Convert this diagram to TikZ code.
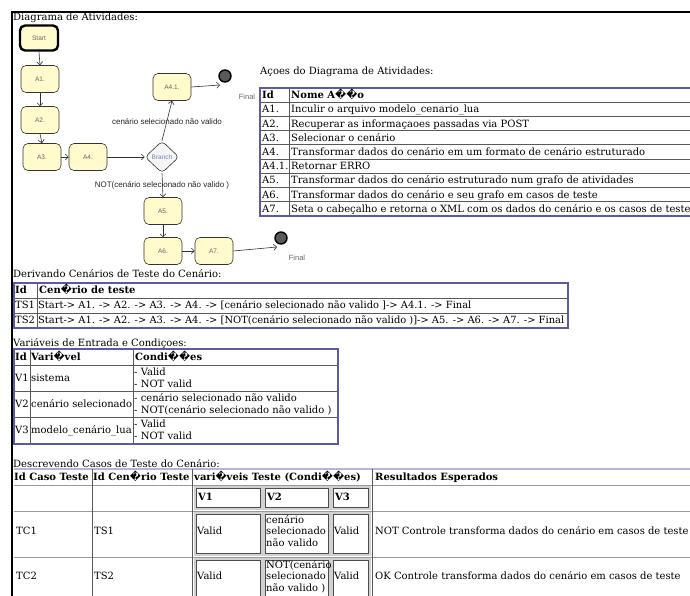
\documentclass[tikz,border=0pt]{standalone}
\usepackage{fontspec}
\setmainfont{DejaVu Serif}
\newfontfamily\diagfont{Liberation Sans}
\usetikzlibrary{shapes.geometric,arrows.meta,positioning,calc}

\definecolor{actyellow}{HTML}{FFFBCC}
\definecolor{tblframe}{HTML}{5A5AA8}
\definecolor{tbltop}{HTML}{B4B4DC}
\definecolor{branchblue}{HTML}{7083B0}
\definecolor{linegray}{HTML}{333333}

\begin{document}
\begin{tikzpicture}[
    x=1pt, y=-1pt,
    font=\fontsize{10}{12}\selectfont,
    >={Straight Barb[length=3pt,width=6pt]},
    act/.style={rectangle, draw=linegray, fill=actyellow, rounded corners=5pt, minimum width=38pt, minimum height=27pt, inner sep=0pt, line width=0.6pt, font=\diagfont\fontsize{6.5}{7}\selectfont, text=black!60},
    startact/.style={act, draw=black, line width=2.4pt, minimum width=38pt, minimum height=25pt},
    branch/.style={diamond, draw=linegray, fill=black!4, rounded corners=4pt, minimum width=34pt, minimum height=32pt, inner sep=0pt, line width=0.6pt, font=\diagfont\fontsize{6.5}{7}\selectfont, text=branchblue},
    final/.style={circle, draw=black, fill=black!65, line width=1.4pt, minimum size=12pt, inner sep=0pt},
    flow/.style={->, draw=linegray, line width=0.6pt},
    guard/.style={font=\diagfont\fontsize{8}{9}\selectfont, text=black!85, inner sep=0pt},
    finlabel/.style={font=\diagfont\fontsize{7.5}{8}\selectfont, text=black!60, inner sep=0pt},
    caption/.style={anchor=base west, inner sep=0pt},
    cell/.style={anchor=base west, inner sep=0pt},
    longcell/.style={cell, font=\fontsize{9.9}{12}\selectfont},
    head/.style={cell, font=\fontsize{10}{12}\selectfont\bfseries},
    frame/.style={draw=tblframe, line width=1.5pt},
    grid/.style={draw=black!65, line width=0.6pt},
    subouter/.style={draw=black!18, line width=1.6pt},
    subinner/.style={draw=black!70, line width=0.6pt}
]
\useasboundingbox (0,0) rectangle (690,596);
\clip (0,0) rectangle (690,596);
\fill[white] (0,0) rectangle (690,596);

% Page frame
\draw[line width=2.6pt] (12,11) -- (12,600);
\draw[line width=1.4pt] (11,12) -- (700,12);

% Activity diagram
\node[caption] (diagtitle) at (13,21) {Diagrama de Atividades:};
\node[startact] (start) at (39,38) {Start};
\node[act] (a1) at (40,79) {A1.};
\node[act] (a2) at (40,120) {A2.};
\node[act] (a3) at (42,157) {A3.};
\node[act] (a4) at (88,157) {A4.};
\node[branch] (branch) at (162,157) {Branch};
\node[act] (a41) at (172,87) {A4.1.};
\node[final] (fin1) at (225,76) {};
\node[finlabel] (fin1lbl) at (247,97) {Final};
\node[act] (a5) at (163,211) {A5.};
\node[act] (a6) at (163,251) {A6.};
\node[act] (a7) at (214,251) {A7.};
\node[final] (fin2) at (281,238) {};
\node[finlabel] (fin2lbl) at (297,258) {Final};
\node[guard] (gyes) at (167,122) {cenário selecionado não valido};
\node[guard] (gno) at (162,185) {NOT(cenário selecionado não valido )};

\coordinate (fin1in) at (220,85);
\coordinate (fin2in) at (277,247);

\draw[flow] (start.south) -- (a1.north);
\draw[flow] (a1) -- (a2);
\draw[flow] (a2.south) -- (a3.north);
\draw[flow] (a3) -- (a4);
\draw[flow] (a4) -- (branch);
\draw[flow] (branch.north) -- (a41.south);
\draw[flow] (a41.east) -- (fin1in);
\draw[flow] (branch.south) -- (a5.north);
\draw[flow] (a5) -- (a6);
\draw[flow] (a6) -- (a7);
\draw[flow] (a7.east) -- (fin2in);

% Action table
\node[caption] (acttitle) at (260,75) {Açoes do Diagrama de Atividades:};
\foreach \k in {1,...,8} \draw[grid] (260,{88+14.2*\k}) -- (700,{88+14.2*\k});
\draw[grid] (289,88) -- (289,216);
\draw[frame] (260,88) rectangle (700,216);
\node[head] (acthid) at (262,98.8) {Id};
\node[head] (acthname) at (291,98.8) {Nome A��o};
\foreach \k/\aid/\aname in {1/A1./Inculir o arquivo modelo\_cenario\_lua,
    2/A2./Recuperar as informaçaoes passadas via POST,
    3/A3./Selecionar o cenário,
    4/A4./Transformar dados do cenário em um formato de cenário estruturado,
    5/A4.1./Retornar ERRO,
    6/A5./Transformar dados do cenário estruturado num grafo de atividades,
    7/A6./Transformar dados do cenário e seu grafo em casos de teste,
    8/A7./Seta o cabeçalho e retorna o XML com os dados do cenário e os casos de teste} {
  \node[cell] (actid-\k) at (262,{98.8+14.2*\k}) {\aid};
  \node[cell] (actname-\k) at (291,{98.8+14.2*\k}) {\aname};
}

% Scenario table
\node[caption] (scentitle) at (13,277) {Derivando Cenários de Teste do Cenário:};
\draw[grid] (14,298) -- (568,298);
\draw[grid] (14,313) -- (568,313);
\draw[grid] (37,283) -- (37,328);
\draw[frame] (14,283) rectangle (568,328);
\node[head] (scenhid) at (15,293.7) {Id};
\node[head] (scenhname) at (39,293.7) {Cen�rio de teste};
\node[cell] (ts1id) at (15,308.7) {TS1};
\node[longcell] (ts1path) at (38,308.7) {Start-> A1. -> A2. -> A3. -> A4. -> [cenário selecionado não valido ]-> A4.1. -> Final};
\node[cell] (ts2id) at (15,323.7) {TS2};
\node[longcell] (ts2path) at (38,323.7) {Start-> A1. -> A2. -> A3. -> A4. -> [NOT(cenário selecionado não valido )]-> A5. -> A6. -> A7. -> Final};

% Variable table
\node[caption] (vartitle) at (13,346) {Variáveis de Entrada e Condiçoes:};
\foreach \yy in {365,391,417} \draw[grid] (14,\yy) -- (338,\yy);
\draw[grid] (30,349) -- (30,444);
\draw[grid] (133,349) -- (133,444);
\draw[frame] (14,349) rectangle (338,444);
\node[head] (varhid) at (15,360.7) {Id};
\node[head] (varhname) at (31,360.7) {Vari�vel};
\node[head] (varhcond) at (135,360.7) {Condi��es};
\foreach \k/\yc/\vname/\ca/\cb in {1/378/sistema/- Valid/- NOT valid,
    2/404/cenário selecionado/- cenário selecionado não valido/- NOT(cenário selecionado não valido ),
    3/430/modelo\_cenário\_lua/- Valid/- NOT valid} {
  \node[cell] (varid-\k) at (15,{\yc+3.5}) {V\k};
  \node[cell] (varname-\k) at (31,{\yc+3.5}) {\vname};
  \node[cell] (varca-\k) at (134,{\yc-3}) {\ca};
  \node[cell] (varcb-\k) at (134,{\yc+9}) {\cb};
}

% Test case table
\node[caption] (casetitle) at (13,467) {Descrevendo Casos de Teste do Cenário:};
\draw[draw=tbltop, line width=1.5pt] (14,469) -- (700,469);
\foreach \yy in {485,511,557} \draw[draw=black!40, line width=0.6pt] (14,\yy) -- (700,\yy);
\foreach \xx in {92,192,372} \draw[grid] (\xx,469) -- (\xx,600);
\node[head] (casehid) at (14,480.7) {Id Caso Teste};
\node[head] (casehscen) at (93,480.7) {Id Cen�rio Teste};
\node[head] (casehvar) at (194,480.7) {vari�veis Teste (Condi��es)};
\node[head] (casehres) at (375,480.7) {Resultados Esperados};
\foreach \ya/\yb in {487/509, 513/555, 559/599} {
  \foreach \xa/\xb in {195/262, 264/330, 332/370} {
    \draw[subouter] (\xa,\ya) rectangle (\xb,\yb);
    \draw[subinner] (\xa+1.5,\ya+1.5) rectangle (\xb-1.5,\yb-1.5);
  }
}
\node[head] (subv1) at (198,500.7) {V1};
\node[head] (subv2) at (267,500.7) {V2};
\node[head] (subv3) at (335,500.7) {V3};

\node[cell] (tc1id) at (16,534.7) {TC1};
\node[cell] (tc1scen) at (94,534.7) {TS1};
\node[cell] (tc1v1) at (197,534.7) {Valid};
\node[cell] (tc1v2a) at (266,523.5) {cenário};
\node[cell] (tc1v2b) at (266,534.7) {selecionado};
\node[cell] (tc1v2c) at (266,546.5) {não valido};
\node[cell] (tc1v3) at (334,534.7) {Valid};
\node[cell] (tc1res) at (375,534.7) {NOT Controle transforma dados do cenário em casos de teste};

\node[cell] (tc2id) at (16,579.7) {TC2};
\node[cell] (tc2scen) at (94,579.7) {TS2};
\node[cell] (tc2v1) at (197,579.7) {Valid};
\node[cell] (tc2v2a) at (266,568.5) {NOT(cenário};
\node[cell] (tc2v2b) at (266,579.7) {selecionado};
\node[cell] (tc2v2c) at (266,591.5) {não valido )};
\node[cell] (tc2v3) at (334,579.7) {Valid};
\node[cell] (tc2res) at (375,579.7) {OK Controle transforma dados do cenário em casos de teste};

\end{tikzpicture}
\end{document}
